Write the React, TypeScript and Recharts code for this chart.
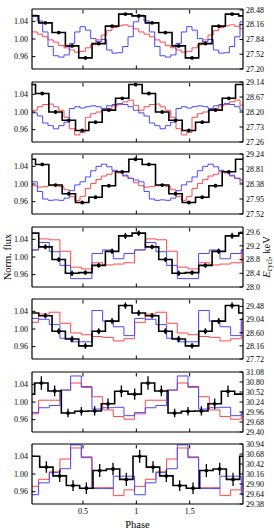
import React from "react";
import { ComposedChart, ErrorBar, Line, Scatter, XAxis, YAxis } from "recharts";

const FONT = '"Liberation Serif", "DejaVu Serif", "Times New Roman", serif';

const phaseTicks = [0.5, 1, 1.5];
const fluxTicks = [0.96, 1.0, 1.04];
const fluxDomain = [0.932, 1.068];

// E_cycl in 1/8 phase bins (keV); first entry = bin cut by the left edge
const ecyc1 = [28.35, 28.2, 27.99, 27.7, 27.44, 27.75, 28.13, 28.39];
const ecyc2 = [29.06, 28.78, 28.2, 27.94, 27.62, 27.88, 28.26, 28.63];
const ecyc3 = [29.09, 28.94, 28.35, 28.1, 27.85, 28.0, 28.33, 28.73];
const ecyc4 = [29.57, 29.17, 28.8, 28.4, 28.42, 28.63, 29.04, 29.49];
const ecyc5 = [29.26, 29.17, 28.65, 28.39, 28.16, 28.65, 28.99, 29.51];
const ecyc6 = [30.46, 30.77, 30.55, 29.93, 29.98, 29.99, 30.19, 30.54];
const ecyc7 = [30.62, 30.34, 30.11, 29.86, 29.79, 30.25, 30.29, 30.02];

const ecycErr1 = [0.02, 0.02, 0.02, 0.02, 0.02, 0.02, 0.02, 0.02];
const ecycErr2 = [0.03, 0.03, 0.03, 0.03, 0.03, 0.03, 0.03, 0.03];
const ecycErr3 = [0.03, 0.03, 0.03, 0.03, 0.03, 0.03, 0.03, 0.03];
const ecycErr4 = [0.08, 0.07, 0.07, 0.08, 0.07, 0.07, 0.08, 0.09];
const ecycErr5 = [0.1, 0.09, 0.1, 0.11, 0.1, 0.1, 0.1, 0.11];
const ecycErr6 = [0.16, 0.19, 0.15, 0.12, 0.12, 0.13, 0.15, 0.16];
const ecycErr7 = [0.17, 0.15, 0.16, 0.14, 0.15, 0.17, 0.16, 0.17];

// pulse profiles (norm. flux), 0.05 phase bins for panels 1-3
const red1 = [1.016, 1.011, 1.005, 0.998, 0.993, 0.985, 0.98, 0.975, 0.97, 0.972, 0.98, 0.987, 0.998, 1.009, 1.019, 1.026, 1.03, 1.032, 1.029, 1.023];
const blue1 = [1.054, 1.041, 1.016, 0.983, 0.962, 0.959, 0.964, 0.99, 1.016, 1.028, 1.02, 1.001, 0.994, 0.999, 0.975, 0.968, 0.969, 0.983, 1.005, 1.039];
const red2 = [1.004, 1.012, 1.017, 1.018, 1.012, 1.004, 0.988, 0.962, 0.948, 0.954, 0.988, 0.996, 1.0, 1.004, 1.008, 1.014, 1.017, 1.023, 1.027, 1.015];
const blue2 = [0.998, 0.991, 0.975, 0.969, 0.962, 0.969, 0.977, 1.008, 1.012, 1.009, 1.012, 1.014, 1.012, 1.008, 1.014, 1.017, 1.019, 1.017, 1.012, 1.004];
const red3 = [0.996, 0.993, 0.994, 0.996, 0.997, 0.994, 0.987, 0.972, 0.963, 0.972, 0.99, 1.001, 1.01, 1.018, 1.022, 1.028, 1.025, 1.018, 1.013, 1.003];
const blue3 = [1.005, 0.983, 0.966, 0.963, 0.964, 0.963, 0.968, 0.985, 0.998, 1.005, 1.016, 1.03, 1.04, 1.045, 1.039, 1.031, 1.028, 1.02, 1.013, 1.009];

// 0.1 phase bins for panels 4-7; first entry = bin cut by the left edge
const red4 = [1.016, 1.041, 1.039, 1.013, 0.977, 0.973, 0.987, 0.982, 0.984, 0.987];
const blue4 = [1.016, 1.033, 1.012, 0.981, 0.951, 0.951, 1.008, 1.016, 0.996, 1.008];
const red5 = [1.015, 1.034, 1.038, 1.013, 0.991, 0.987, 0.983, 0.981, 0.973, 0.978];
const blue5 = [1.024, 1.022, 1.01, 0.979, 0.971, 0.971, 1.042, 1.018, 1.005, 0.985];
const red6 = [0.973, 1.004, 1.004, 1.027, 1.043, 1.033, 1.012, 0.982, 0.967, 0.961];
const blue6 = [0.976, 0.987, 0.992, 1.027, 1.059, 1.035, 0.984, 0.987, 0.988, 0.969];
const red7 = [0.972, 0.988, 1.005, 1.034, 1.059, 1.039, 0.969, 0.969, 0.951, 0.964];
const blue7 = [0.953, 0.98, 1.003, 1.012, 1.066, 1.037, 0.967, 0.967, 0.995, 0.995];

const eTicks1 = [27.2, 27.52, 27.84, 28.16, 28.48];
const eTicks2 = [27.26, 27.73, 28.2, 28.67, 29.14];
const eTicks3 = [27.52, 27.95, 28.38, 28.81, 29.24];
const eTicks4 = [28.0, 28.4, 28.8, 29.2, 29.6];
const eTicks5 = [27.72, 28.16, 28.6, 29.04, 29.48];
const eTicks6 = [29.4, 29.68, 29.96, 30.24, 30.52, 30.8, 31.08];
const eTicks7 = [29.38, 29.64, 29.9, 30.16, 30.42, 30.68, 30.94];

const LO = 0.022;
const HI = 2.0;
const TOP0 = 9;
const STEP = 72.55;
const PLOT_H = 60;
const MT = 6;
const MB = 6;
const GAP = 3;
const TICK = 3.5;

type Pt = { x: number; y: number; err?: number };

function histogram(values: number[], start: number, width: number): Pt[] {
  const pts: Pt[] = [];
  for (let k = 0; start + k * width < HI; k++) {
    if (start + (k + 1) * width <= LO) continue;
    pts.push({ x: Math.max(start + k * width, LO), y: values[k % values.length] });
  }
  pts.push({ x: HI, y: pts[pts.length - 1].y });
  return pts;
}

function binCenters(values: number[], errs: number[], start: number, width: number): Pt[] {
  const pts: Pt[] = [];
  for (let k = 0; start + k * width < HI; k++) {
    const c = start + (k + 0.5) * width;
    if (c < LO + 0.04 || c > HI - 0.04) continue;
    pts.push({ x: c, y: values[k % values.length], err: errs[k % errs.length] });
  }
  return pts;
}

const panels = [
  { e: ecyc1, err: ecycErr1, eStart: -0.04, red: red1, blue: blue1, pStart: 0.022, pW: 0.05, ticks: eTicks1, dom: [27.2, 28.5], dig: 2 },
  { e: ecyc2, err: ecycErr2, eStart: -0.07, red: red2, blue: blue2, pStart: 0.022, pW: 0.05, ticks: eTicks2, dom: [27.26, 29.14], dig: 2 },
  { e: ecyc3, err: ecycErr3, eStart: -0.07, red: red3, blue: blue3, pStart: 0.022, pW: 0.05, ticks: eTicks3, dom: [27.52, 29.24], dig: 2 },
  { e: ecyc4, err: ecycErr4, eStart: -0.04, red: red4, blue: blue4, pStart: -0.016, pW: 0.1, ticks: eTicks4, dom: [28.0, 29.75], dig: 1 },
  { e: ecyc5, err: ecycErr5, eStart: -0.04, red: red5, blue: blue5, pStart: -0.016, pW: 0.1, ticks: eTicks5, dom: [27.72, 29.73], dig: 2 },
  { e: ecyc6, err: ecycErr6, eStart: -0.078, red: red6, blue: blue6, pStart: -0.016, pW: 0.1, ticks: eTicks6, dom: [29.4, 31.08], dig: 2 },
  { e: ecyc7, err: ecycErr7, eStart: -0.031, red: red7, blue: blue7, pStart: -0.016, pW: 0.1, ticks: eTicks7, dom: [29.38, 30.94], dig: 2 },
];

const txt = { fontFamily: FONT, fontSize: 8, fill: "#000" };

function LeftTick(p: any) {
  const ax = p.x + GAP;
  return (
    <g>
      <line x1={ax} x2={ax + TICK} y1={p.y} y2={p.y} stroke="#000" strokeWidth={1} />
      <text x={p.x - 1} y={p.y} dy={2.8} textAnchor="end" {...txt}>
        {Number(p.payload.value).toFixed(2)}
      </text>
    </g>
  );
}

function RightTick(p: any) {
  const ax = p.x - GAP;
  return (
    <g>
      <line x1={ax} x2={ax - TICK} y1={p.y} y2={p.y} stroke="#000" strokeWidth={1} />
      <text x={p.x} y={p.y} dy={2.8} textAnchor="start" {...txt}>
        {Number(p.payload.value).toFixed(p.dig)}
      </text>
    </g>
  );
}

function TopTick(p: any) {
  const ay = p.y + GAP + 1;
  return <line x1={p.x} x2={p.x} y1={ay} y2={ay + TICK} stroke="#000" strokeWidth={1} />;
}

function BottomTick(p: any) {
  const ay = p.y - GAP;
  return (
    <g>
      <line x1={p.x} x2={p.x} y1={ay} y2={ay - TICK} stroke="#000" strokeWidth={1} />
      {p.show && (
        <text x={p.x} y={ay + 10} textAnchor="middle" {...txt}>
          {String(p.payload.value)}
        </text>
      )}
    </g>
  );
}

function Panel({ cfg, index }: { cfg: (typeof panels)[number]; index: number }) {
  const last = index === panels.length - 1;
  const mb = last ? MB + 12 : MB;
  const top = TOP0 + STEP * index - MT;
  const axis = { stroke: "#000", strokeWidth: 1.2 };
  return (
    <div style={{ position: "absolute", left: 0, top }}>
      <ComposedChart width={274} height={PLOT_H + MT + mb} margin={{ top: MT - 1, right: 0, bottom: mb - 1, left: 0 }}>
        <XAxis
          xAxisId="b"
          dataKey="x"
          type="number"
          domain={[LO, HI]}
          allowDataOverflow
          ticks={phaseTicks}
          interval={0}
          height={1}
          tickSize={0}
          tickMargin={GAP}
          axisLine={axis}
          tick={(p: any) => <BottomTick {...p} show={last} />}
        />
        <XAxis
          xAxisId="t"
          orientation="top"
          dataKey="x"
          type="number"
          domain={[LO, HI]}
          allowDataOverflow
          ticks={phaseTicks}
          interval={0}
          height={1}
          tickSize={0}
          tickMargin={GAP}
          axisLine={axis}
          tick={(p: any) => <TopTick {...p} />}
        />
        <YAxis
          yAxisId="f"
          type="number"
          domain={fluxDomain}
          allowDataOverflow
          ticks={fluxTicks}
          interval={0}
          width={32}
          tickSize={0}
          tickMargin={GAP}
          axisLine={axis}
          tick={(p: any) => <LeftTick {...p} />}
        />
        <YAxis
          yAxisId="e"
          orientation="right"
          type="number"
          domain={cfg.dom}
          allowDataOverflow
          ticks={cfg.ticks}
          interval={0}
          width={31}
          tickSize={0}
          tickMargin={GAP}
          axisLine={axis}
          tick={(p: any) => <RightTick {...p} dig={cfg.dig} />}
        />
        <Line
          xAxisId="b"
          yAxisId="f"
          data={histogram(cfg.red, cfg.pStart, cfg.pW)}
          dataKey="y"
          type="stepAfter"
          stroke="#ff4a4a"
          strokeWidth={1}
          dot={false}
          activeDot={false}
          isAnimationActive={false}
        />
        <Line
          xAxisId="b"
          yAxisId="f"
          data={histogram(cfg.blue, cfg.pStart, cfg.pW)}
          dataKey="y"
          type="stepAfter"
          stroke="#4a4aff"
          strokeWidth={1}
          dot={false}
          activeDot={false}
          isAnimationActive={false}
        />
        <Line
          xAxisId="b"
          yAxisId="e"
          data={histogram(cfg.e, cfg.eStart, 0.125)}
          dataKey="y"
          type="stepAfter"
          stroke="#000"
          strokeWidth={1.6}
          dot={false}
          activeDot={false}
          isAnimationActive={false}
        />
        <Scatter
          xAxisId="b"
          yAxisId="e"
          data={binCenters(cfg.e, cfg.err, cfg.eStart, 0.125)}
          dataKey="y"
          fill="#000"
          shape={(p: any) => <circle cx={p.cx} cy={p.cy} r={1.9} fill="#000" />}
          isAnimationActive={false}
        >
          <ErrorBar dataKey="err" direction="y" width={0} stroke="#000" strokeWidth={1.3} />
        </Scatter>
      </ComposedChart>
    </div>
  );
}

export default function App() {
  return (
    <div style={{ position: "absolute", left: 0, top: 0, width: 274, height: 532, background: "#fff" }}>
      {panels.map((cfg, i) => (
        <Panel key={i} cfg={cfg} index={i} />
      ))}
      <svg width={274} height={532} style={{ position: "absolute", left: 0, top: 0, pointerEvents: "none" }}>
        <text x={0} y={0} transform="translate(11 257) rotate(-90)" textAnchor="middle" fontFamily={FONT} fontSize={10.5} fill="#000">
          Norm. flux
        </text>
        <text x={0} y={0} transform="translate(270 257) rotate(-90)" textAnchor="middle" fontFamily={FONT} fontSize={10.5} fill="#000">
          <tspan fontStyle="italic">E</tspan>
          <tspan fontSize={7.5} dy={2}>cycl</tspan>
          <tspan dy={-2}>, keV</tspan>
        </text>
        <text x={137.5} y={528} textAnchor="middle" fontFamily={FONT} fontSize={10.5} fill="#000">
          Phase
        </text>
      </svg>
    </div>
  );
}
